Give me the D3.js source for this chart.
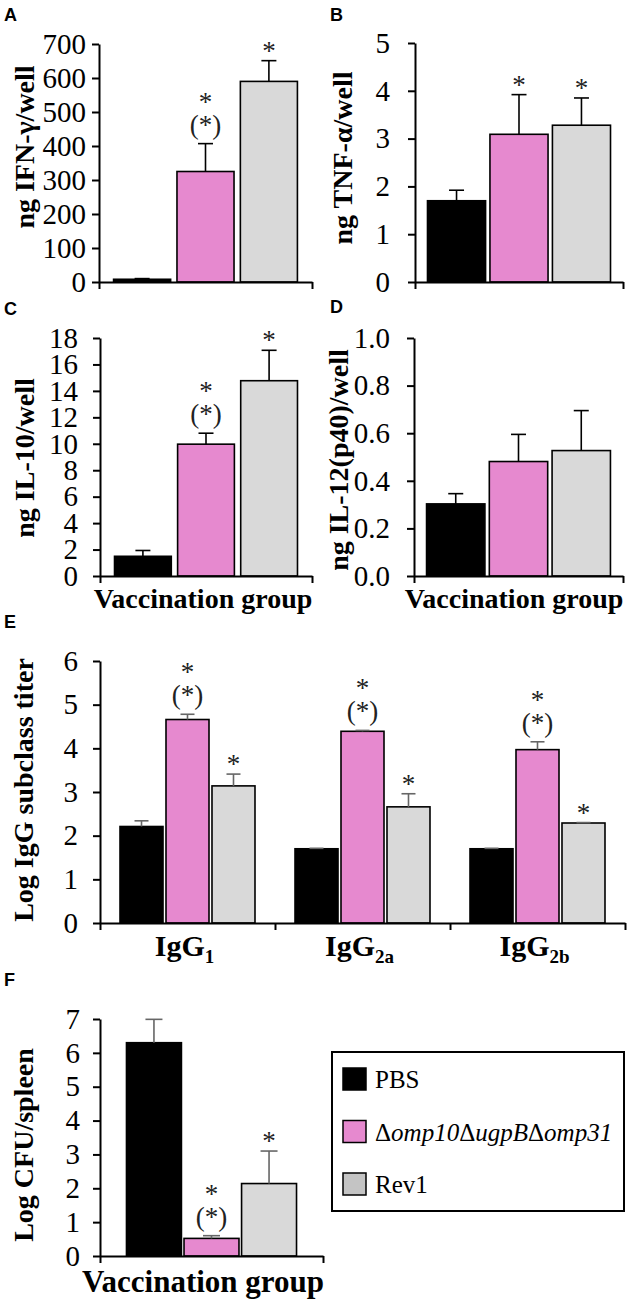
<!DOCTYPE html>
<html><head><meta charset="utf-8">
<script src="https://cdn.jsdelivr.net/npm/d3@7"></script>
<style>body{margin:0;background:#fff} svg{display:block}</style>
</head><body>
<svg id="chart" width="633" height="1302"></svg>
<script>
// ---------------- DATA ----------------
const groupNames = ["PBS", "Δomp10ΔugpBΔomp31", "Rev1"];
const barFill = ["#000000", "#E689CF", "#D9D9D9"];
const swatchFill = ["#000000", "#E689CF", "#C4C4C4"];

// A: IFN-gamma
const ifnMean = [8, 325, 590];
const ifnSD = [2, 82, 61];
const ifnTicks = [0, 100, 200, 300, 400, 500, 600, 700];
const ifnMarks = ["", "*(*)", "*"];
// B: TNF-alpha
const tnfMean = [1.70, 3.09, 3.28];
const tnfSD = [0.22, 0.83, 0.57];
const tnfTicks = [0, 1, 2, 3, 4, 5];
const tnfMarks = ["", "*", "*"];
// C: IL-10
const il10Mean = [1.49, 9.97, 14.77];
const il10SD = [0.44, 0.83, 2.30];
const il10Ticks = [0, 2, 4, 6, 8, 10, 12, 14, 16, 18];
const il10Marks = ["", "*(*)", "*"];
// D: IL-12(p40)
const il12Mean = [0.303, 0.481, 0.527];
const il12SD = [0.043, 0.114, 0.168];
const il12Ticks = [0, 0.2, 0.4, 0.6, 0.8, 1.0];
const il12Marks = ["", "", ""];
// E: IgG subclass titers
const igClasses = ["IgG1", "IgG2a", "IgG2b"];
const igSubs = ["1", "2a", "2b"];
const igPBS = [2.21, 1.70, 1.70];
const igPBSSD = [0.13, 0.01, 0.01];
const igMut = [4.66, 4.39, 3.97];
const igMutSD = [0.12, 0.02, 0.18];
const igRev = [3.14, 2.66, 2.29];
const igRevSD = [0.27, 0.30, 0.01];
const igTicks = [0, 1, 2, 3, 4, 5, 6];
const igMarks = ["", "*(*)", "*"];
// F: spleen CFU
const cfuMean = [6.30, 0.52, 2.14];
const cfuSD = [0.69, 0.08, 0.96];
const cfuTicks = [0, 1, 2, 3, 4, 5, 6, 7];
const cfuMarks = ["", "*(*)", "*"];

// ---------------- DRAW ----------------
const svg = d3.select("#chart");
const SERIF = "'Liberation Serif','Times New Roman',serif";
const SANS = "'Liberation Sans',Arial,sans-serif";

function panel(o) {
  const g = svg.append("g");
  const yMax = o.ticks[o.ticks.length - 1];
  const y = d3.scaleLinear().domain([0, yMax]).range([o.yZero, o.yTop]);
  const outer = d3.scaleBand().domain(o.cats).range([o.x0, o.x1]).padding(0);
  const inner = d3.scaleBand().domain(groupNames).range([0, outer.bandwidth()])
    .paddingInner(o.pi).paddingOuter(o.po);

  const rows = [];
  o.cats.forEach((c, ci) => {
    groupNames.forEach((gn, gi) => {
      rows.push({c, gi, gn, v: o.values[gi][ci], sd: o.sds[gi][ci], mark: o.marks[gi]});
    });
  });

  // bars
  g.selectAll("rect.bar").data(rows).enter().append("rect")
    .attr("x", d => outer(d.c) + inner(d.gn))
    .attr("y", d => y(d.v))
    .attr("width", inner.bandwidth())
    .attr("height", d => y(0) - y(d.v))
    .attr("fill", d => barFill[d.gi])
    .attr("stroke", "#000").attr("stroke-width", 1.6);

  // error bars
  const cx = d => outer(d.c) + inner(d.gn) + inner.bandwidth() / 2;
  g.selectAll("line.err").data(rows).enter().append("line")
    .attr("x1", cx).attr("x2", cx)
    .attr("y1", d => y(d.v)).attr("y2", d => y(d.v + d.sd))
    .attr("stroke", o.errColor).attr("stroke-width", 1.6);
  g.selectAll("line.cap").data(rows).enter().append("line")
    .attr("x1", d => cx(d) - o.cap / 2).attr("x2", d => cx(d) + o.cap / 2)
    .attr("y1", d => y(d.v + d.sd)).attr("y2", d => y(d.v + d.sd))
    .attr("stroke", o.errColor).attr("stroke-width", 1.6);

  // significance marks (one text element each)
  rows.filter(d => d.mark).forEach(d => {
    const top = y(d.v + d.sd);
    const t = g.append("text").attr("font-family", SERIF).attr("font-size", 27)
      .attr("text-anchor", "middle").attr("fill", "#222");
    if (d.mark === "*") {
      t.attr("x", cx(d)).attr("y", top - 1).text("*");
    } else {
      t.attr("x", cx(d)).attr("y", top - 33);
      t.append("tspan").attr("x", cx(d)).text("*");
      t.append("tspan").attr("x", cx(d)).attr("dy", 23).text("(*)");
    }
  });

  // y axis
  const ya = g.append("g").attr("transform", `translate(${o.x0},0)`)
    .call(d3.axisLeft(y).tickValues(o.ticks).tickFormat(o.fmt)
      .tickSize(7).tickSizeOuter(0).tickPadding(o.tickPad));
  ya.attr("font-family", SERIF).attr("font-size", 29);
  ya.selectAll("text").attr("fill", "#000");
  ya.selectAll("path,line").attr("stroke", "#000").attr("stroke-width", 2);

  // x axis
  const xl = d3.scaleLinear().domain([0, o.cats.length]).range([o.x0, o.x1]);
  const xa = g.append("g").attr("transform", `translate(0,${o.yZero})`)
    .call(d3.axisBottom(xl).tickValues(d3.range(o.cats.length + 1)).tickFormat("")
      .tickSize(7).tickSizeOuter(0));
  xa.selectAll("path,line").attr("stroke", "#000").attr("stroke-width", 2);

  // y title
  g.append("text").attr("transform", `translate(${o.ytx},${o.yty}) rotate(-90)`)
    .attr("text-anchor", "middle").attr("dominant-baseline", "central")
    .attr("font-family", SERIF).attr("font-weight", "bold").attr("font-size", 28)
    .text(o.ytitle);

  // x category labels
  if (o.catLabel) o.catLabel(g, outer);

  // panel letter
  g.append("text").attr("x", o.lx).attr("y", o.ly)
    .attr("font-family", SANS).attr("font-weight", "bold").attr("font-size", 18)
    .text(o.letter);
  return g;
}

function vacLabel(cxp, cy, size) {
  return (g) => {
    g.append("text").attr("x", cxp).attr("y", cy)
      .attr("text-anchor", "middle").attr("font-family", SERIF).attr("font-weight", "bold")
      .attr("font-size", size).text("Vaccination group");
  };
}

const one = ["Vaccination group"];
const wrap = a => a.map(v => [v]);

panel({letter: "A", lx: 4, ly: 21, x0: 99, x1: 312, yZero: 282, yTop: 44,
  ticks: ifnTicks, fmt: d3.format("d"), cats: one,
  values: wrap(ifnMean), sds: wrap(ifnSD), marks: ifnMarks,
  errColor: "#000", cap: 15, pi: 0.10, po: 0.23, tickPad: 6,
  ytitle: "ng IFN-γ/well", ytx: 24, yty: 147});

panel({letter: "B", lx: 330, ly: 21, x0: 415, x1: 623, yZero: 282, yTop: 43,
  ticks: tnfTicks, fmt: d3.format("d"), cats: one,
  values: wrap(tnfMean), sds: wrap(tnfSD), marks: tnfMarks,
  errColor: "#000", cap: 15, pi: 0.07, po: 0.20, tickPad: 18,
  ytitle: "ng TNF-α/well", ytx: 342, yty: 158});

panel({letter: "C", lx: 4, ly: 315, x0: 100, x1: 312, yZero: 576, yTop: 338,
  ticks: il10Ticks, fmt: d3.format("d"), cats: one,
  values: wrap(il10Mean), sds: wrap(il10SD), marks: il10Marks,
  errColor: "#000", cap: 15, pi: 0.10, po: 0.23, tickPad: 15,
  ytitle: "ng IL-10/well", ytx: 24, yty: 458, catLabel: vacLabel(203, 608, 28)});

panel({letter: "D", lx: 330, ly: 313, x0: 414, x1: 623, yZero: 576, yTop: 338,
  ticks: il12Ticks, fmt: d3.format(".1f"), cats: one,
  values: wrap(il12Mean), sds: wrap(il12SD), marks: il12Marks,
  errColor: "#000", cap: 15, pi: 0.07, po: 0.20, tickPad: 17,
  ytitle: "ng IL-12(p40)/well", ytx: 338, yty: 460, catLabel: vacLabel(514, 608, 28)});

panel({letter: "E", lx: 4, ly: 628, x0: 100, x1: 625, yZero: 923, yTop: 661,
  ticks: igTicks, fmt: d3.format("d"), cats: igClasses,
  values: [igPBS, igMut, igRev], sds: [igPBSSD, igMutSD, igRevSD], marks: igMarks,
  errColor: "#666", cap: 14, pi: 0.065, po: 0.435, tickPad: 15,
  ytitle: "Log IgG subclass titer", ytx: 23, yty: 790,
  catLabel: (g, outer) => {
    igClasses.forEach((c, i) => {
      const t = g.append("text").attr("x", outer(c) + outer.bandwidth() / 2 - 3).attr("y", 956)
        .attr("text-anchor", "middle").attr("font-family", SERIF).attr("font-weight", "bold")
        .attr("font-size", 30);
      t.append("tspan").text("IgG");
      t.append("tspan").attr("font-size", 19).attr("dy", 7).text(igSubs[i]);
    });
  }});

panel({letter: "F", lx: 4, ly: 986, x0: 100, x1: 323, yZero: 1256, yTop: 1019,
  ticks: cfuTicks, fmt: d3.format("d"), cats: one,
  values: wrap(cfuMean), sds: wrap(cfuSD), marks: cfuMarks,
  errColor: "#666", cap: 17, pi: 0.045, po: 0.46, tickPad: 13,
  ytitle: "Log CFU/spleen", ytx: 23, yty: 1145, catLabel: vacLabel(203, 1292, 31)});

// legend
const lg = svg.append("g");
lg.append("rect").attr("x", 332).attr("y", 1052).attr("width", 292).attr("height", 159)
  .attr("fill", "#fff").attr("stroke", "#000").attr("stroke-width", 2);
const ly = d3.scalePoint().domain(groupNames).range([1079, 1184]);
groupNames.forEach((gname, i) => {
  lg.append("rect").attr("x", 343).attr("y", ly(gname) - 11).attr("width", 23).attr("height", 22)
    .attr("fill", swatchFill[i]).attr("stroke", "#000").attr("stroke-width", 1.5);
  const t = lg.append("text").attr("x", 375).attr("y", ly(gname) + 9)
    .attr("font-family", SERIF).attr("font-size", 25);
  if (i === 1) {
    gname.split(/(Δ)/).filter(s => s).forEach(s => {
      t.append("tspan").attr("font-style", s === "Δ" ? "normal" : "italic").text(s);
    });
  } else {
    t.text(gname);
  }
});
</script>
</body></html>
